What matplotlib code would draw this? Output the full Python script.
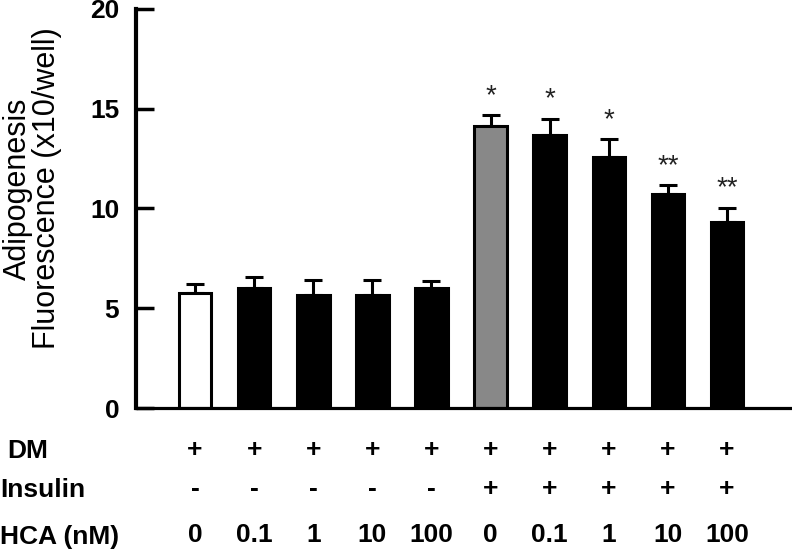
import numpy as np
import matplotlib
matplotlib.use("Agg")
import matplotlib.pyplot as plt

plt.rcParams['font.family'] = ['Liberation Sans', 'DejaVu Sans']

# data
hca = ['0', '0.1', '1', '10', '100', '0', '0.1', '1', '10', '100']
dm = ['+'] * 10
insulin = ['-'] * 5 + ['+'] * 5
values = [5.77, 6.03, 5.68, 5.68, 6.03, 14.13, 13.69, 12.59, 10.75, 9.30]
errors = [0.43, 0.56, 0.73, 0.73, 0.35, 0.56, 0.82, 0.87, 0.44, 0.75]
stars = ['', '', '', '', '', '*', '*', '*', '**', '**']
colors = ['white', 'black', 'black', 'black', 'black',
          '#888888', 'black', 'black', 'black', 'black']

fig = plt.figure(figsize=(7.92, 5.54), dpi=100)
ax = fig.add_axes([136 / 792, 1 - 408 / 554, 1 - 136 / 792, (408 - 9) / 554])

x = np.arange(len(values))
ax.bar(x, values, width=0.55, color=colors, edgecolor='black', linewidth=2.2, zorder=2)
ax.errorbar(x, values, yerr=[np.zeros(len(errors)), errors], fmt='none',
            ecolor='black', elinewidth=2.2, capsize=6.5, capthick=2.2, zorder=1)

for xi, v, e, s in zip(x, values, errors, stars):
    if s:
        ax.text(xi, v + e + 0.3, s, ha='center', va='bottom', fontsize=20,
                color='#222222')

ax.set_xlim(-1.0, 10.1)
ax.set_ylim(0, 20)
ax.set_yticks([0, 5, 10, 15, 20])
ax.set_xticks([])
ax.spines['top'].set_visible(False)
ax.spines['right'].set_visible(False)
ax.spines['left'].set_linewidth(3)
ax.spines['bottom'].set_linewidth(2.3)
ax.tick_params(axis='y', direction='in', length=13, width=2.5, pad=12,
               labelsize=19)
for lab in ax.get_yticklabels():
    lab.set_fontweight('bold')

ax.set_ylabel('Adipogenesis\nFluorescence (x10/well)', fontsize=22,
              linespacing=0.95)
ax.yaxis.set_label_coords(-0.113, 0.55)

# condition rows under the axis
trans = ax.get_xaxis_transform()
rows = [(dm, -0.106), (insulin, -0.203), (hca, -0.319)]
for labels, yy in rows:
    for xi, t in zip(x, labels):
        ax.text(xi, yy, t, transform=trans, ha='center', va='center',
                fontsize=19, fontweight='bold')

fig.text(7 / 792, 1 - 451 / 554, 'DM', ha='left', va='center', fontsize=19, fontweight='bold')
fig.text(0, 1 - 490 / 554, 'Insulin', ha='left', va='center', fontsize=19, fontweight='bold')
fig.text(0, 1 - 537 / 554, 'HCA (nM)', ha='left', va='center', fontsize=19, fontweight='bold')

fig.savefig('out.png', dpi=100)
